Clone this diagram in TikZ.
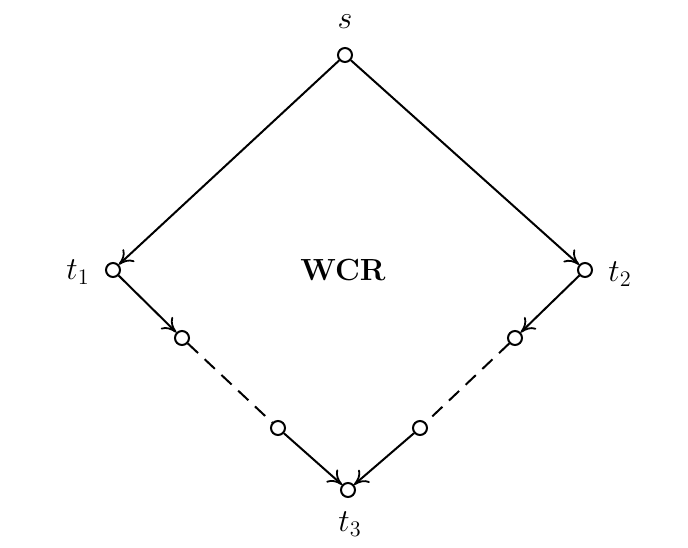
\documentclass[tikz,border=0pt]{standalone}
\usetikzlibrary{arrows.meta}
\newcommand{\bigtxt}[1]{\scalebox{1.85}{\LARGE #1}}
\begin{document}
\begin{tikzpicture}[x=1pt,y=-1pt,
  vtx/.style={circle,draw,line width=2pt,minimum size=14pt,inner sep=0pt,fill=white},
  edge/.style={line width=2pt,-{To[length=14pt,width=17pt,line width=1.8pt]}},
  dashline/.style={line width=2pt,dash pattern=on 14pt off 9pt}]
\useasboundingbox (0,0) rectangle (688,547);
\fill[white] (0,0) rectangle (688,547);
\node[vtx] (s) at (345,55) {};
\node[vtx] (t1) at (113,270) {};
\node[vtx] (t2) at (585,270) {};
\node[vtx] (t3) at (348,490) {};
\node[vtx] (a1) at (182,338) {};
\node[vtx] (a2) at (278,428) {};
\node[vtx] (b1) at (515,338) {};
\node[vtx] (b2) at (420,428) {};
\node (ls) at (345,22) {\bigtxt{$s$}};
\node (l1) at (78,272) {\bigtxt{$t_1$}};
\node (l2) at (620,274) {\bigtxt{$t_2$}};
\node (l3) at (350,524) {\bigtxt{$t_3$}};
\node (w) at (343,270) {\scalebox{1.77}{\LARGE\bfseries WCR}};
\draw[edge] (s) -- (t1);
\draw[edge] (s) -- (t2);
\draw[edge] (t1) -- (a1);
\draw[edge] (t2) -- (b1);
\draw[edge] (a2) -- (t3);
\draw[edge] (b2) -- (t3);
\draw[dashline] (a1) -- (a2);
\draw[dashline] (b1) -- (b2);
\end{tikzpicture}
\end{document}
